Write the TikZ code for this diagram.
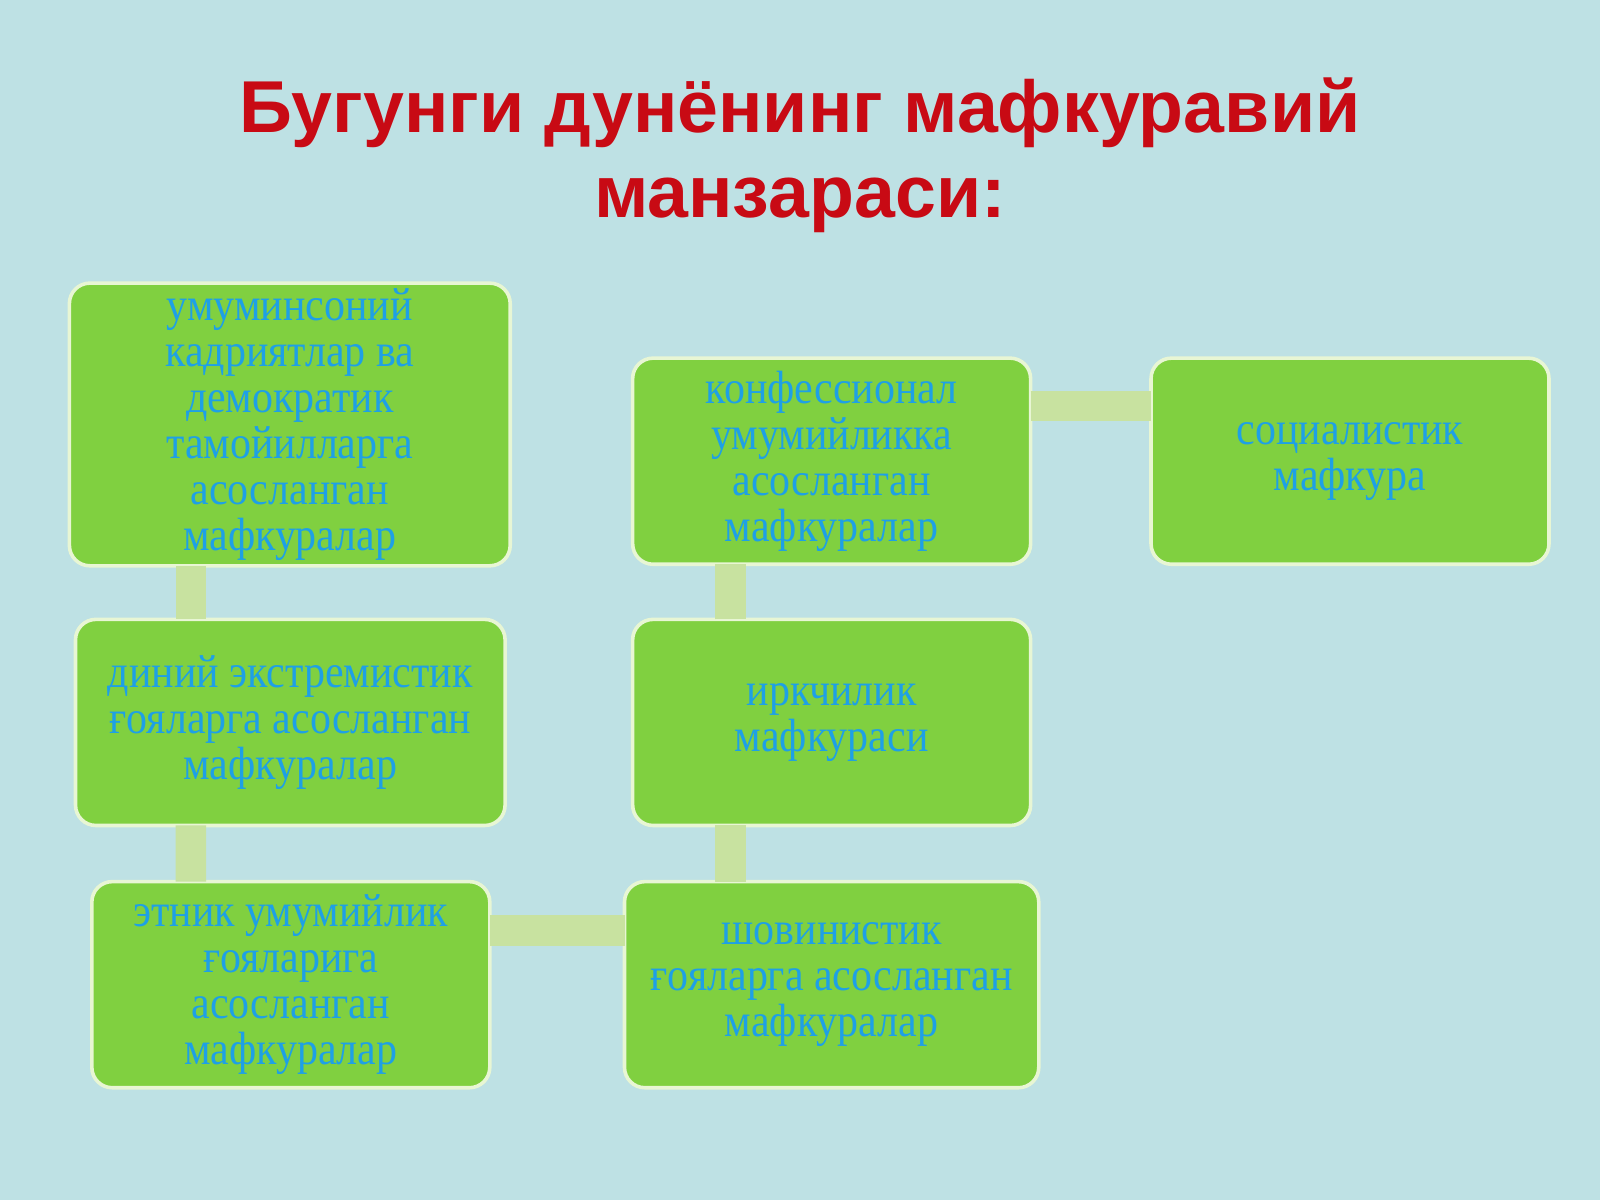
\documentclass[tikz,border=0pt]{standalone}
\usepackage{fontspec}
\setmainfont{Liberation Serif}
\newfontfamily\titlefont{Liberation Sans}
\newfontfamily\boxfont{Liberation Serif}[FakeStretch=0.9]
\definecolor{slidebg}{RGB}{190,225,228}
\definecolor{boxfill}{RGB}{128,208,64}
\definecolor{boxline}{RGB}{232,246,212}
\definecolor{boxtext}{RGB}{30,160,230}
\definecolor{linkcol}{RGB}{200,226,160}
\definecolor{titlered}{RGB}{200,10,20}
\begin{document}
\begin{tikzpicture}[
    idea/.style={draw=boxline, line width=1pt, fill=boxfill, rounded corners=0.2cm,
      align=center, inner sep=0pt, outer sep=0pt, minimum height=2.02cm,
      text=boxtext, font=\boxfont\fontsize{13}{12.8}\selectfont},
    link/.style={draw=linkcol, line width=0.3cm}
  ]
  \fill[slidebg] (0,0) rectangle (15.68,11.76);
  \node[text=titlered, align=center, font=\titlefont\bfseries\fontsize{20.5}{23.6}\selectfont]
    (title) at (7.84,10.24) {Бугунги дунёнинг мафкуравий\\манзараси:};
  \draw
    (2.84,7.6) node[idea, minimum width=4.32cm, minimum height=2.77cm] (umum)
      {умуминсоний\\кадриятлар ва\\демократик\\тамойилларга\\асосланган\\мафкуралар}
    (2.845,4.68) node[idea, minimum width=4.21cm] (diniy)
      {диний экстремистик\\ғояларга асосланган\\мафкуралар}
    (2.85,2.11) node[idea, minimum width=3.90cm] (etnik)
      {этник умумийлик\\ғояларига\\асосланган\\мафкуралар}
    (8.15,2.11) node[idea, minimum width=4.06cm] (shovin)
      {шовинистик\\ғояларга асосланган\\мафкуралар}
    (8.15,4.68) node[idea, minimum width=3.90cm] (irq)
      {иркчилик\\мафкураси}
    (8.15,7.24) node[idea, minimum width=3.90cm] (konf)
      {конфессионал\\умумийликка\\асосланган\\мафкуралар}
    (13.23,7.24) node[idea, minimum width=3.90cm] (sots)
      {социалистик\\мафкура};
  \begin{scope}[link]
    \draw ([xshift=-0.97cm]umum.south) to ([xshift=-0.975cm]diniy.north);
    \draw ([xshift=-0.975cm]diniy.south) to ([xshift=-0.98cm]etnik.north);
    \draw ([yshift=0.53cm]etnik.east) to ([yshift=0.53cm]shovin.west);
    \draw ([xshift=-0.99cm]shovin.north) to ([xshift=-0.99cm]irq.south);
    \draw ([xshift=-0.99cm]irq.north) to ([xshift=-0.99cm]konf.south);
    \draw ([yshift=0.54cm]konf.east) to ([yshift=0.54cm]sots.west);
  \end{scope}
\end{tikzpicture}
\end{document}
